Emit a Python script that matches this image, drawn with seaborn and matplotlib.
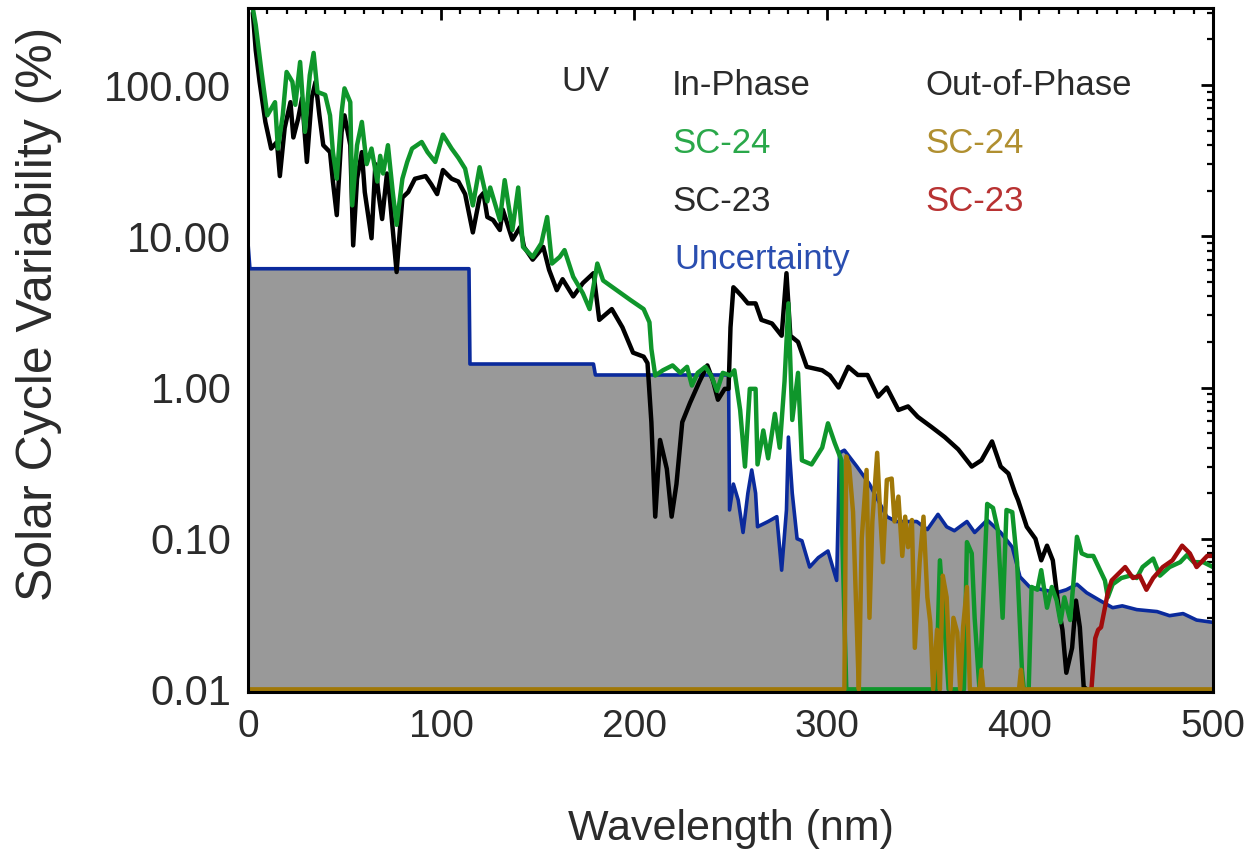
import numpy as np
import matplotlib
matplotlib.use("Agg")
import matplotlib.pyplot as plt
import seaborn as sns
from matplotlib.ticker import MultipleLocator, LogLocator, FixedLocator, NullFormatter

# ---------------- data ----------------
# SC-23 in-phase (black)
sc23_in_x = [2.5, 4, 6, 9, 12, 15, 16.5, 19, 22, 23.5, 26, 28, 30.5, 33, 35, 37, 39, 42.5, 44, 46,
             48.5, 50, 53, 54.5, 56.5, 59, 60.5, 64, 66, 67.5, 69.5, 72, 73.5, 77, 80, 83, 86.5, 92,
             95, 98, 101, 105.5, 109, 112.5, 116.5, 120, 122, 124, 127, 130.5, 132, 137, 141, 143,
             147.5, 153, 156, 160, 163, 168.5, 173.5, 179, 182, 188.5, 194, 199.5, 205, 207, 209,
             211, 213.5, 217, 219.5, 222, 225, 229, 234, 238, 241, 243.5, 247, 249, 250, 251.5, 253,
             256, 259, 263, 266, 271.5, 276.5, 279, 281, 285, 289.5, 297.5, 301.5, 306, 311, 316,
             321, 326.5, 331, 337, 342, 347, 354, 361, 368, 375, 380, 385.5, 390, 394, 397.5, 399,
             403.5, 408, 411, 414, 417, 420, 422, 424, 427, 429, 431, 433, 434.5]
sc23_in_y = [300, 170, 105, 57, 38, 42, 25, 52, 77, 45, 60, 82, 31, 82, 105, 63, 40, 36, 23, 13.8,
             49, 63, 40, 8.7, 24, 36, 19.6, 9.7, 30, 19.6, 13, 26, 18, 5.8, 18, 19.6, 24, 25,
             22, 19, 27.4, 24, 23, 19, 10.6, 18, 19.3, 13.4, 12.8, 11, 15, 9.5, 11.5, 8.5,
             7.0, 8.5, 6.0, 4.4, 5.2, 4.0, 4.9, 5.7, 2.8, 3.3, 2.5, 1.7, 1.6, 1.45, 0.59,
             0.14, 0.45, 0.29, 0.14, 0.23, 0.59, 0.79, 1.1, 1.4, 1.1, 0.83, 0.98, 0.98, 2.5, 4.6, 4.4,
             4.0, 3.6, 3.6, 2.8, 2.65, 2.2, 5.7, 2.2, 2.0, 1.37, 1.3, 1.2, 1.0, 1.37, 1.21,
             1.21, 0.87, 1.0, 0.71, 0.75, 0.64, 0.55, 0.47, 0.39, 0.30, 0.33, 0.44, 0.30, 0.27, 0.20, 0.18,
             0.12, 0.10, 0.072, 0.09, 0.072, 0.035, 0.025, 0.013, 0.019, 0.039, 0.026, 0.0105, 0.0]

# SC-24 in-phase (green)
sc24_in_x = [2, 4, 7, 10, 14, 15.5, 18, 20, 23, 24.5, 27, 29.5, 32, 34, 36, 40, 42.5, 44, 46, 48.5,
             50, 53, 54, 56.5, 59, 61.5, 64, 67, 68.5, 70, 72.5, 75, 77, 80, 82.5, 85, 90, 93, 97,
             101, 105.5, 109, 112.5, 116.5, 120, 124, 125.5, 130.5, 133, 137, 140, 142.5, 147.5,
             152, 155, 157.5, 161.5, 164, 168.5, 173.5, 177, 181, 184, 191, 198, 205, 208, 209,
             211, 215, 220, 224, 227.5, 230, 233, 237, 240, 243, 246, 250, 252, 255, 257.5, 260,
             263, 264, 267, 269.5, 273, 275.5, 278, 280, 282, 285, 287, 292, 297.5, 300.5, 304,
             307.5, 308, 310, 356.5, 358.5, 361, 363, 371, 372.5, 375, 376.5, 379, 381, 383, 386,
             388.5, 391, 393, 396, 398.5, 401, 402, 404.5, 406, 409, 411, 414, 416.5, 419, 421,
             423, 426, 427.5, 429.5, 432, 435, 438, 441.5, 444, 445.5, 448, 452.5, 457, 460.5,
             463.5, 469, 472.5, 477.5, 483, 486.5, 490, 495, 500]
sc24_in_y = [350, 250, 122, 63, 77, 38, 63, 122, 105, 74, 142, 49, 116, 163, 90, 86, 63, 36, 24, 66,
             95, 77, 16, 40, 57, 30, 38, 23, 34, 26, 40, 19.6, 11.9, 24, 31, 38, 42, 36, 31,
             47, 38, 33, 28, 16, 28.6, 17, 21, 12.8, 23.5, 11, 21, 8.5, 7.3,
             9.0, 13.4, 6.6, 7.3, 8.1, 5.4, 4.2, 3.3, 6.6, 5.1, 4.4, 3.8, 3.3, 2.7, 1.8,
             1.2, 1.3, 1.4, 1.25, 1.37, 1.03, 1.25, 1.37, 1.2, 0.95, 1.25, 1.2, 1.3, 0.71, 0.30, 0.98,
             0.98, 0.31, 0.52, 0.34, 0.67, 0.40, 1.1, 3.6, 0.61, 1.25, 0.33, 0.31, 0.40, 0.58, 0.43,
             0.33, 0.095, 0.0, 0.0, 0.072, 0.025, 0.0, 0.0, 0.095, 0.08, 0.03, 0.0, 0.041, 0.17, 0.16,
             0.115, 0.03, 0.155, 0.15, 0.07, 0.0136, 0.0, 0.0, 0.048, 0.046, 0.062, 0.035, 0.048, 0.039, 0.028,
             0.041, 0.029, 0.048, 0.103, 0.08, 0.077, 0.077, 0.062, 0.053, 0.041, 0.05, 0.055, 0.057, 0.055,
             0.065, 0.074, 0.057, 0.065, 0.07, 0.078, 0.07, 0.07, 0.065]

# SC-24 out-of-phase (olive); 0 = no out-of-phase variability (drawn on the floor)
sc24_out_x = [0, 309, 310, 311.5, 313.5, 315.5, 316.5, 318, 320.5, 322, 323.5, 326, 327.5, 329, 331,
              333.5, 335, 337, 339, 340.5, 342, 344, 345.5, 348, 350, 352, 353.5, 355, 357, 358.5,
              360, 362, 364, 365.5, 367.5, 369, 370.5, 372.5, 374, 379, 380, 381, 399.5, 400.5,
              401.5, 500]
sc24_out_y = [0, 0, 0.35, 0.30, 0.15, 0.025, 0, 0.10, 0.285, 0.03, 0.13, 0.37, 0.15, 0.07, 0.245,
              0.25, 0.13, 0.19, 0.077, 0.14, 0.088, 0.133, 0.019, 0.07, 0.14, 0.041, 0.028, 0, 0.025, 0,
              0.057, 0.041, 0, 0.03, 0.024, 0, 0.026, 0.048, 0, 0, 0.0136, 0, 0, 0.0136,
              0, 0]

# SC-23 out-of-phase (red)
sc23_out_x = [436, 437, 439, 440.5, 442, 444, 445.5, 447.5, 450, 454.5, 458.5, 462, 465.5, 469, 474,
              479, 484, 488, 491.5, 497, 500]
sc23_out_y = [0, 0, 0.022, 0.025, 0.026, 0.035, 0.044, 0.053, 0.057, 0.065, 0.055, 0.057, 0.046,
              0.055, 0.065, 0.072, 0.09, 0.08, 0.065, 0.077, 0.077]

# Uncertainty (blue, grey filled)
unc_x = [0, 1, 114.5, 115, 179, 180, 249, 249.5, 251.5, 254, 256.5, 259, 261, 263, 264, 269.5, 274,
         276.5, 279, 280, 282, 284.5, 287, 291, 295.5, 300.5, 305, 306.5, 309, 315.5, 322, 331,
         336, 346.5, 352, 357.5, 362, 366, 372.5, 376.5, 383, 390, 396, 400, 405, 412, 419, 424,
         429.5, 434.5, 441.5, 448, 453, 460.5, 471, 477.5, 484.5, 491.5, 500]
unc_y = [9.0, 6.1, 6.1, 1.43, 1.43, 1.21, 1.21, 0.155, 0.23, 0.18, 0.11, 0.20, 0.285, 0.20, 0.12, 0.13,
         0.14, 0.062, 0.155, 0.47, 0.20, 0.10, 0.097, 0.065, 0.075, 0.083, 0.053, 0.37, 0.385, 0.30,
         0.23, 0.14, 0.13, 0.13, 0.115, 0.145, 0.12, 0.113, 0.13, 0.11, 0.133, 0.11, 0.088, 0.056,
         0.048, 0.046, 0.044, 0.046, 0.05, 0.044, 0.039, 0.035, 0.036, 0.034, 0.033, 0.031, 0.032,
         0.029, 0.028]

x_ticks = [0, 100, 200, 300, 400, 500]
y_ticks = [0.01, 0.1, 1, 10, 100]
y_tick_labels = ["0.01", "0.10", "1.00", "10.00", "100.00"]

# ---------------- styling ----------------
sns.set_theme(style="white")
plt.rcParams["font.family"] = ["Liberation Sans", "DejaVu Sans"]

C_GREEN = "#0f962b"
C_BLACK = "#000000"
C_BLUE = "#0a2a9c"
C_OLIVE = "#a07808"
C_RED = "#a00c0c"
C_FILL = "#999999"
C_TEXT = "#2b2b2b"

YMIN, YMAX = 0.0097, 323
FLOOR = 0.0101


def on_floor(v):
    return np.clip(np.asarray(v, dtype=float), FLOOR, None)


fig = plt.figure(figsize=(12.55, 8.49), dpi=100)
ax = fig.add_axes([248 / 1255, 1 - 692 / 849, (1213 - 248) / 1255, (692 - 8) / 849])
ax.set_yscale("log")
ax.set_xlim(0, 500)
ax.set_ylim(YMIN, YMAX)

ax.fill_between(unc_x, YMIN, unc_y, color=C_FILL, lw=0, zorder=1)
kw = dict(ax=ax, sort=False, estimator=None, legend=False)
sns.lineplot(x=unc_x, y=unc_y, color=C_BLUE, lw=2.6, zorder=2, **kw)
sns.lineplot(x=sc23_in_x, y=on_floor(sc23_in_y), color=C_BLACK, lw=3.2, zorder=3, **kw)
sns.lineplot(x=sc24_in_x, y=on_floor(sc24_in_y), color=C_GREEN, lw=3.2, zorder=4, **kw)
sns.lineplot(x=sc23_out_x, y=on_floor(sc23_out_y), color=C_RED, lw=3.2, zorder=5, **kw)
sns.lineplot(x=sc24_out_x, y=on_floor(sc24_out_y), color=C_OLIVE, lw=3.2, zorder=6, **kw)

# axes & ticks
ax.xaxis.set_major_locator(FixedLocator(x_ticks))
ax.xaxis.set_minor_locator(MultipleLocator(10))
ax.yaxis.set_major_locator(FixedLocator(y_ticks))
ax.yaxis.set_minor_locator(LogLocator(base=10, subs=np.arange(2, 10)))
ax.yaxis.set_minor_formatter(NullFormatter())
ax.set_yticklabels(y_tick_labels)
ax.tick_params(which="both", direction="in", top=True, right=True, colors="black",
               labelcolor=C_TEXT)
ax.tick_params(which="major", length=8.5, width=2.0, pad=12)
ax.tick_params(axis="y", which="major", labelsize=30)
ax.tick_params(axis="x", which="major", labelsize=28)
ax.tick_params(which="minor", length=4.3, width=1.6)
for s in ax.spines.values():
    s.set_linewidth(2.2)
    s.set_color("black")
    s.set_zorder(10)

ax.set_xlabel("Wavelength (nm)", fontsize=31, color=C_TEXT, labelpad=46)
ax.set_ylabel("Solar Cycle Variability (%)", fontsize=36, color=C_TEXT)
ax.yaxis.set_label_coords(-0.193, 0.553)

# annotations
tkw = dict(fontsize=25, va="center", ha="left")
ax.text(174.6, 105, "UV", color=C_TEXT, fontsize=25, va="center", ha="center")
ax.text(219.7, 100, "In-Phase", color=C_TEXT, **tkw)
ax.text(350.8, 100, "Out-of-Phase", color=C_TEXT, **tkw)
ax.text(219.7, 41.3, "SC-24", color="#2aa84a", **tkw)
ax.text(350.8, 41.3, "SC-24", color="#b08f30", **tkw)
ax.text(219.7, 17.1, "SC-23", color=C_TEXT, **tkw)
ax.text(350.8, 17.1, "SC-23", color="#b83232", **tkw)
ax.text(221, 7.07, "Uncertainty", color="#2a4eb0", **tkw)

fig.savefig("out.png", dpi=100)
